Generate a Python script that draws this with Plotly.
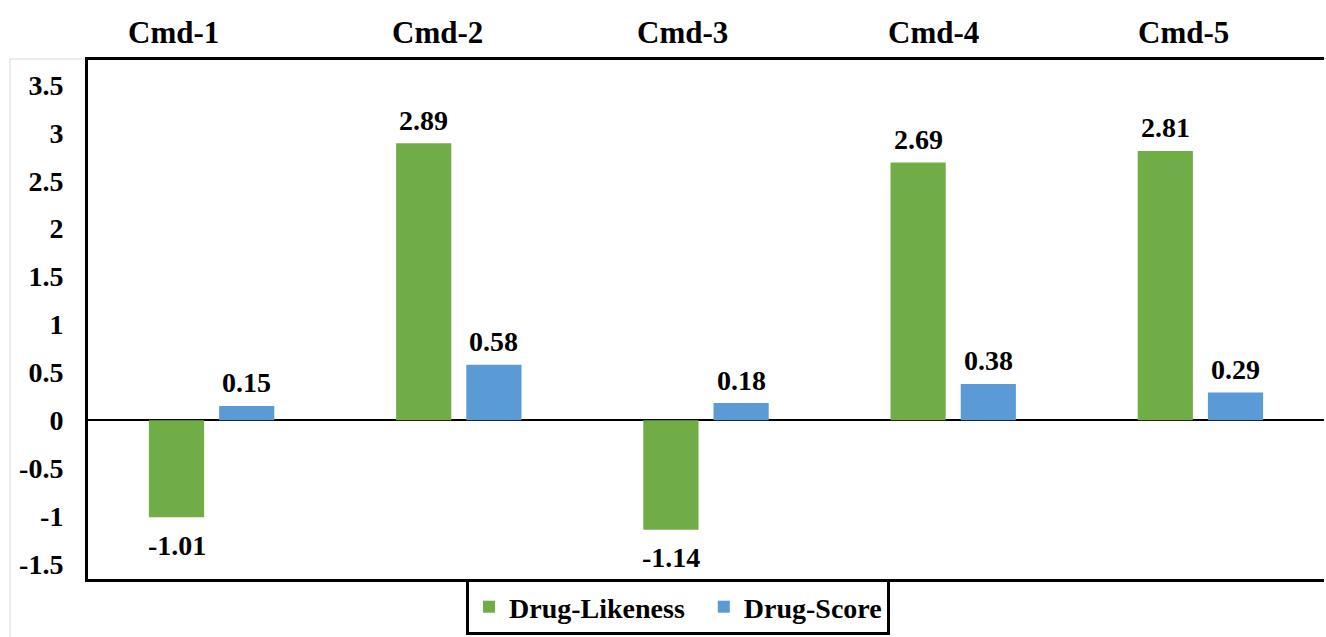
import plotly.graph_objects as go

# Compounds and their predicted properties
compounds = ["Cmd-1", "Cmd-2", "Cmd-3", "Cmd-4", "Cmd-5"]
drug_likeness = [-1.01, 2.89, -1.14, 2.69, 2.81]
drug_score = [0.15, 0.58, 0.18, 0.38, 0.29]

y_ticks = [3.5, 3, 2.5, 2, 1.5, 1, 0.5, 0, -0.5, -1, -1.5]
y_tick_labels = ["3.5", "3", "2.5", "2", "1.5", "1", "0.5", "0", "-0.5", "-1", "-1.5"]

GREEN = "#70AD47"
BLUE = "#5B9BD5"
FONT = "Liberation Serif"

W, H = 1326, 637
L, R, T, B = 88, 2, 60, 54
PW, PH = W - L - R, H - T - B


def px_x(px):
    return (px - L) / PW


def px_y(py):
    return (H - B - py) / PH


fig = go.Figure()
fig.add_trace(go.Bar(
    # trailing non-breaking spaces widen the gap to the next legend entry
    name="Drug-Likeness\u00a0\u00a0", x=compounds, y=drug_likeness,
    marker=dict(color=GREEN, line=dict(width=0)),
))
fig.add_trace(go.Bar(
    name="Drug-Score", x=compounds, y=drug_score,
    marker=dict(color=BLUE, line=dict(width=0)),
))

# Value labels: placed just beyond the end of each bar
annotations = []
for values, shift in ((drug_likeness, -35), (drug_score, 35)):
    for c, v in zip(compounds, values):
        annotations.append(dict(
            text=f"<b>{v:.2f}</b>", x=c, y=v, xref="x", yref="y",
            xshift=shift, yshift=23 if v >= 0 else -28,
            xanchor="center", yanchor="middle", showarrow=False,
            font=dict(family=FONT, size=28, color="black"),
        ))

# Compound names written above the frame
header_px = [173, 437, 682, 933, 1183]
for c, p in zip(compounds, header_px):
    annotations.append(dict(
        text=f"<b>{c}</b>", x=px_x(p), y=px_y(32), xref="paper", yref="paper",
        xanchor="center", yanchor="middle", showarrow=False,
        font=dict(family=FONT, size=31, color="black"),
    ))

shapes = [
    # light outer chart border
    dict(type="rect", xref="paper", yref="paper", layer="below",
         x0=px_x(10), x1=px_x(1400), y0=px_y(700), y1=px_y(59),
         line=dict(color="#D9D9D9", width=1), fillcolor="rgba(0,0,0,0)"),
]

fig.update_layout(
    width=W, height=H,
    margin=dict(l=L, r=R, t=T, b=B, pad=0),
    paper_bgcolor="white", plot_bgcolor="white",
    barmode="group", bargap=0.432, bargroupgap=0.214,
    font=dict(family=FONT, color="black"),
    annotations=annotations,
    shapes=shapes,
    legend=dict(
        orientation="h", x=px_x(678), xanchor="center", y=0, yanchor="top",
        bgcolor="white", bordercolor="black", borderwidth=3,
        font=dict(family=FONT, size=28, color="black", weight="bold"),
        itemwidth=30, tracegroupgap=0,
    ),
    showlegend=True,
)

fig.update_xaxes(
    showticklabels=False, ticks="", showgrid=False,
    showline=True, linecolor="black", linewidth=3, mirror=True,
)
fig.update_yaxes(
    range=[-1.655, 3.759], tickvals=y_ticks, ticktext=y_tick_labels,
    tickfont=dict(family=FONT, size=28, color="black", weight="bold"),
    showgrid=False, ticks="", ticklabelstandoff=16,
    showline=True, linecolor="black", linewidth=3, mirror=False,
    zeroline=True, zerolinecolor="black", zerolinewidth=2,
)

fig.write_html("out.html")
